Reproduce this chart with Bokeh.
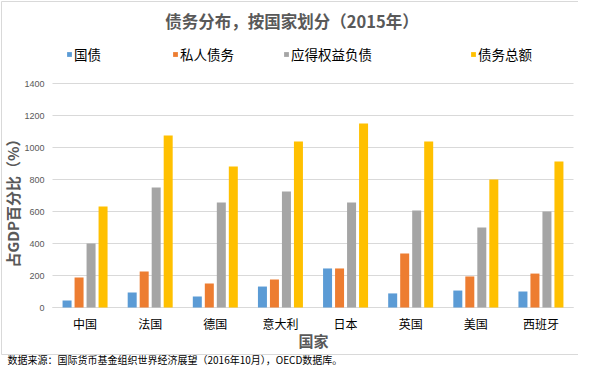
import numpy as np
from bokeh.plotting import figure
from bokeh.models import ColumnDataSource, Range1d, Label, Legend, LegendItem
from bokeh.transform import dodge
from bokeh.embed import file_html
from bokeh.resources import INLINE

countries = ["中国", "法国", "德国", "意大利", "日本", "英国", "美国", "西班牙"]
gov_debt = [44, 94, 69, 131, 244, 88, 106, 100]
private_debt = [188, 225, 150, 175, 244, 338, 194, 212]
entitlement = [400, 750, 656, 725, 656, 606, 500, 600]
total_debt = [631, 1075, 881, 1037, 1150, 1037, 800, 912]
series_names = ["国债", "私人债务", "应得权益负债", "债务总额"]
y_ticks = [0, 200, 400, 600, 800, 1000, 1200, 1400]

colors = ["#5B9BD5", "#ED7D31", "#A5A5A5", "#FFC000"]
CJK = "Noto Sans CJK SC"
W, H = 578, 367

# plot-area layout (pixels inside the figure)
FL, FR, FT, FB = 52, 573, 83, 307
n = len(countries)
YMAX = y_ticks[-1]
ux = (FR - FL) / n          # px per category
uy = YMAX / (FB - FT)       # value per px

def dx(fx):
    return (fx - FL) / ux

def dy(fy):
    return (FB - fy) * uy

p = figure(width=W, height=H, x_range=Range1d(dx(0), dx(W)), y_range=Range1d(dy(H), dy(0)),
           output_backend="svg", toolbar_location=None, min_border=0,
           x_axis_type=None, y_axis_type=None)
p.outline_line_color = None
p.background_fill_color = "white"
p.border_fill_color = "white"
p.xgrid.visible = False
p.ygrid.visible = False

xc = np.arange(n) + 0.5
src = ColumnDataSource(dict(xc=xc, name=countries, gov=gov_debt, priv=private_debt,
                            ent=entitlement, tot=total_debt))

# chart border (left, top, bottom)
border = "#D9D9D9"
p.segment(x0=[dx(1), dx(1), dx(1)], x1=[dx(1), dx(W), dx(W)],
          y0=[dy(1), dy(1), dy(354)], y1=[dy(354), dy(1), dy(354)],
          line_color=border, line_width=1)

# gridlines and axis line
p.segment(x0=0, x1=n, y0=y_ticks, y1=y_ticks, line_color="#D9D9D9", line_width=1)
p.segment(x0=[0], x1=[n], y0=[0], y1=[0], line_color="#D9D9D9", line_width=1)

pitch = 12 / ux
bw = 9 / ux
renderers = []
for i, (col, c) in enumerate(zip(["gov", "priv", "ent", "tot"], colors)):
    r = p.vbar(x=dodge("xc", (i - 1.5) * pitch), top=col, width=bw,
               source=src, fill_color=c, line_color=None)
    renderers.append(r)

# tick labels
p.text(x=0, y=y_ticks, text=[str(t) for t in y_ticks], x_offset=-8,
       text_align="right", text_baseline="middle", text_font_size="9px",
       text_color="#595959", text_font={"value": "Liberation Sans"})
p.text(x="xc", y=0, text="name", source=src, y_offset=16,
       text_align="center", text_baseline="middle", text_font_size="12px",
       text_color="#000000", text_font={"value": CJK})

# legends
leg_x = [66, 172, 283, 470]
for name, r, lx in zip(series_names, renderers, leg_x):
    lg = Legend(items=[LegendItem(label=name, renderers=[r])], location=(lx, H - 64),
                orientation="horizontal", margin=0, padding=0, spacing=0,
                border_line_color=None, background_fill_alpha=0,
                glyph_width=6, glyph_height=6, label_standoff=2, label_height=14,
                label_text_font=CJK, label_text_font_size="13.5px",
                label_text_color="#000000")
    p.add_layout(lg, "center")

def label(text, fx, fy, size, color, bold=False, align="center", angle=0):
    p.add_layout(Label(x=dx(fx), y=dy(fy), text=text,
                       text_font=CJK, text_font_size=size, text_color=color,
                       text_font_style="bold" if bold else "normal",
                       text_align=align, text_baseline="middle", angle=angle))

label("债务分布，按国家划分（2015年）", 291.5, 20, "16.5px", "#595959", bold=True)
label("国家", 313, 340, "15px", "#595959", bold=True)
label("占GDP百分比（%）", 12, 199, "15px", "#595959", bold=True, angle=np.pi / 2)
label("数据来源：国际货币基金组织世界经济展望（2016年10月），OECD数据库。", 7, 359,
      "10px", "#000000", align="left")

open("out.html", "w").write(file_html(p, INLINE))
